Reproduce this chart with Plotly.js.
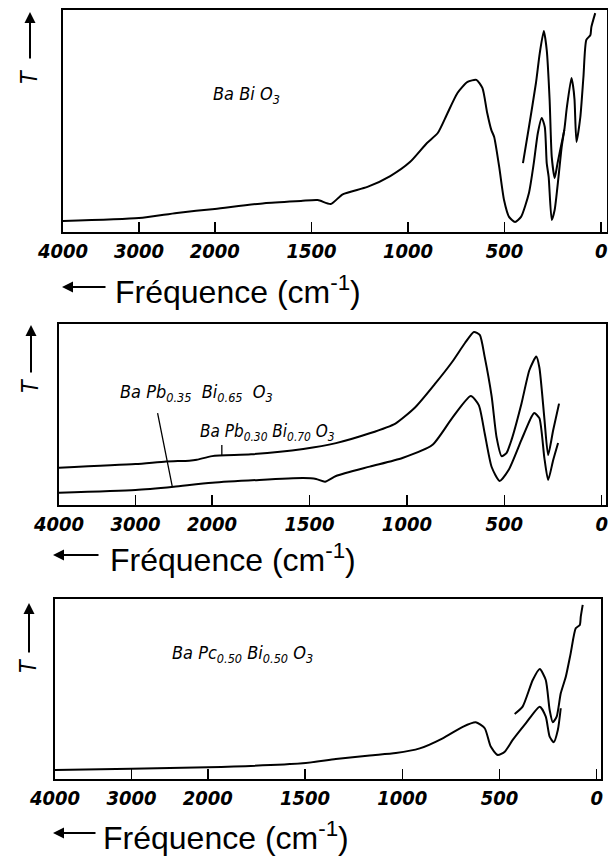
<!DOCTYPE html>
<html>
<head>
<meta charset="utf-8">
<script src="https://cdn.plot.ly/plotly-3.0.1.min.js"></script>
<style>html,body{margin:0;padding:0;background:#fff}#chart{width:608px;height:857px}</style>
</head>
<body>
<div id="chart"></div>
<script>
// ---------- data (wavenumber cm-1, transmission in % of frame height) ----------
const TICK_W = [4000, 3000, 2000, 1500, 1000, 500, 0];
const TICK_LABELS = ["4000", "3000", "2000", "1500", "1000", "500", "0"];

// Panel 1: BaBiO3
const p1a_w = [4000, 3000, 2500, 2000, 1744, 1554, 1467, 1400, 1338, 1210, 1092, 990, 903, 846, 800, 744, 692, 646, 615, 590, 569, 554, 528, 503, 477, 446, 415, 374, 349, 328, 308, 292, 282, 272, 256, 241, 221, 205, 191];
const p1a_t = [5.0, 6.3, 8.6, 10.4, 13.0, 14.0, 14.4, 12.6, 17.0, 20.3, 25.2, 31.5, 40.0, 44.6, 52.7, 62.6, 67.6, 68.5, 64.9, 53.6, 46.0, 42.8, 29.3, 14.4, 6.8, 4.5, 6.8, 17.6, 31.0, 44.6, 51.4, 47.3, 31.0, 24.8, 5.4, 9.9, 24.8, 38.0, 46.0];
const p1b_w = [405, 374, 338, 318, 297, 282, 267, 256, 241, 226, 205, 191, 178, 154, 146, 138, 128, 108, 92, 77, 56, 51, 31];
const p1b_t = [31.0, 47.3, 67.0, 80.6, 90.5, 82.0, 59.5, 33.8, 24.3, 31.0, 40.0, 46.0, 56.0, 69.4, 66.0, 59.5, 40.5, 51.8, 69.8, 86.5, 88.7, 92.3, 98.6];

// Panel 2: BaPb0.30Bi0.70O3 (upper) and BaPb0.35Bi0.65O3 (lower)
const p2a_w = [4000, 3000, 2600, 2300, 2200, 2000, 1800, 1532, 1364, 1191, 1059, 957, 855, 768, 702, 656, 626, 601, 565, 540, 514, 489, 463, 412, 371, 336, 320, 295, 275, 249, 219];
const p2a_t = [20.6, 22.6, 24.0, 24.5, 25.0, 27.0, 28.0, 31.0, 34.2, 39.6, 45.0, 54.0, 67.0, 79.0, 89.5, 95.6, 94.0, 82.0, 60.0, 37.6, 27.0, 28.7, 36.0, 56.0, 74.6, 82.0, 76.0, 48.6, 27.6, 41.4, 56.0];
const p2b_w = [4000, 3000, 2500, 2000, 1532, 1466, 1420, 1364, 1191, 1023, 870, 768, 672, 631, 601, 565, 524, 478, 412, 361, 346, 320, 295, 275, 249, 224];
const p2b_t = [6.8, 8.3, 10.1, 12.3, 14.9, 14.4, 12.9, 16.0, 21.2, 26.0, 33.1, 48.0, 60.2, 55.2, 39.8, 21.0, 13.3, 19.3, 36.0, 48.6, 50.8, 48.0, 26.5, 13.8, 24.9, 34.3];

// Panel 3: BaPc0.50Bi0.50O3
const p3a_w = [4000, 3000, 2000, 1512, 1342, 1167, 1033, 910, 792, 689, 622, 576, 545, 509, 473, 432, 365, 293, 262, 242, 221, 200, 185];
const p3a_t = [5.0, 5.7, 6.5, 8.7, 11.1, 13.1, 14.4, 17.0, 22.6, 29.0, 31.5, 28.2, 18.0, 13.3, 15.2, 21.7, 30.9, 40.2, 34.6, 23.5, 20.4, 27.2, 39.3];
const p3b_w = [422, 381, 329, 293, 262, 242, 226, 206, 185, 159, 134, 108, 87, 82, 72];
const p3b_t = [36.1, 40.2, 55.0, 61.1, 55.0, 38.3, 31.5, 34.6, 47.6, 56.8, 69.8, 83.7, 85.6, 90.2, 96.7];

const LABEL1 = "Ba Bi O<sub>3</sub>";
const LABEL2a = "Ba Pb<sub>0.35</sub>  Bi<sub>0.65</sub>  O<sub>3</sub>";
const LABEL2b = "Ba Pb<sub>0.30</sub> Bi<sub>0.70</sub> O<sub>3</sub>";
const LABEL3 = "Ba Pc<sub>0.50</sub> Bi<sub>0.50</sub> O<sub>3</sub>";
const XTITLE = "Fréquence (cm<sup>-1</sup>)";
const YTITLE = "T";

// ---------- split wavenumber scale (scale change at 2000 cm-1) ----------
const R = 2.545;
function u(w) { return w <= 2000 ? w : 2000 + (w - 2000) / R; }
const UMAX = u(4000);

const W = 608, H = 857;
const px = x => x / W;
const py = y => 1 - y / H;

const NARROW = "DejaVu Sans Condensed, Liberation Sans Narrow, Arial Narrow, Liberation Sans, sans-serif";
const SANS = "Liberation Sans, Arial, Helvetica, sans-serif";

function line(wArr, tArr, xa, ya) {
  return {
    x: wArr.map(u), y: tArr, xaxis: xa, yaxis: ya, type: "scatter", mode: "lines",
    line: {color: "#000", width: 2, shape: "spline", smoothing: 0.6},
    hoverinfo: "skip"
  };
}

const traces = [
  line(p1a_w, p1a_t, "x", "y"),
  line(p1b_w, p1b_t, "x", "y"),
  line(p2a_w, p2a_t, "x2", "y2"),
  line(p2b_w, p2b_t, "x2", "y2"),
  line(p3a_w, p3a_t, "x3", "y3"),
  line(p3b_w, p3b_t, "x3", "y3")
];

function xax(l, r, anchor, umin) {
  return {
    domain: [px(l), px(r)], range: [UMAX, umin], anchor: anchor,
    tickmode: "array", tickvals: TICK_W.map(u),
    ticktext: TICK_LABELS.map(s => "<i><b>" + s + "</b></i>"),
    ticks: "inside", ticklen: 10, tickwidth: 1.5, tickcolor: "#000",
    tickfont: {family: NARROW, size: 20, color: "#000"},
    ticklabeloverflow: "allow",
    showline: true, mirror: true, linewidth: 2, linecolor: "#000",
    showgrid: false, zeroline: false, fixedrange: true
  };
}
function yax(top, bottom, anchor) {
  return {
    domain: [py(bottom), py(top)], range: [0, 100], anchor: anchor,
    showticklabels: false, ticks: "",
    showline: true, mirror: true, linewidth: 2, linecolor: "#000",
    showgrid: false, zeroline: false, fixedrange: true
  };
}

const annotations = [];
function textAnn(text, x, y, size, family, extra) {
  annotations.push(Object.assign({
    text: text, xref: "paper", yref: "paper", x: px(x), y: py(y),
    xanchor: "left", yanchor: "middle", showarrow: false,
    font: {family: family, size: size, color: "#000"}
  }, extra || {}));
}
function arrowAnn(hx, hy, ax, ay) {
  annotations.push({
    text: "", xref: "paper", yref: "paper", x: px(hx), y: py(hy),
    ax: ax, ay: ay, showarrow: true, arrowhead: 2, arrowsize: 1.1,
    arrowwidth: 2, arrowcolor: "#000"
  });
}

// Y "T" with upward arrow, x title with left arrow, per panel
const panels = [
  {tY: 77, aHead: 12, aTail: 60, aX: 30, fY: 290, fArrowHead: 62, fArrowLen: 45, fX: 113},
  {tY: 386, aHead: 325, aTail: 374, aX: 31, fY: 558, fArrowHead: 53, fArrowLen: 47, fX: 108},
  {tY: 666, aHead: 603, aTail: 654, aX: 29, fY: 836, fArrowHead: 53, fArrowLen: 44, fX: 101}
];
panels.forEach(p => {
  textAnn("<i>" + YTITLE + "</i>", p.aX - 1, p.tY, 23, NARROW, {xanchor: "center", textangle: -90});
  arrowAnn(p.aX, p.aHead, 0, p.aTail - p.aHead);
  arrowAnn(p.fArrowHead, p.fY - 3, p.fArrowLen, 0);
  textAnn(XTITLE, p.fX, p.fY, 32, SANS);
});

// compound labels
textAnn("<i>" + LABEL1 + "</i>", 211, 95, 18, NARROW);
textAnn("<i>" + LABEL2a + "</i>", 118, 393, 18, NARROW);
textAnn("<i>" + LABEL2b + "</i>", 198, 432, 17, NARROW);
textAnn("<i>" + LABEL3 + "</i>", 170, 654, 18, NARROW);

// leader lines from labels to curves
annotations.push({text: "", xref: "x2", yref: "y2", x: u(2520), y: 10.1, ax: -15, ay: -75,
  showarrow: true, arrowhead: 0, arrowwidth: 1.3, arrowcolor: "#000"});
annotations.push({text: "", xref: "x2", yref: "y2", x: u(1950), y: 27.3, ax: 0, ay: -12,
  showarrow: true, arrowhead: 0, arrowwidth: 1.3, arrowcolor: "#000"});

const layout = {
  width: W, height: H, margin: {l: 0, r: 0, t: 0, b: 0},
  paper_bgcolor: "#fff", plot_bgcolor: "#fff", showlegend: false,
  xaxis: xax(63, 607, "y", -30), yaxis: yax(10, 232, "x"),
  xaxis2: xax(59, 606, "y2", -22), yaxis2: yax(324, 505, "x2"),
  xaxis3: xax(55, 601, "y3", -22), yaxis3: yax(599, 779, "x3"),
  annotations: annotations
};

Plotly.newPlot("chart", traces, layout, {staticPlot: true, displayModeBar: false});
</script>
</body>
</html>
